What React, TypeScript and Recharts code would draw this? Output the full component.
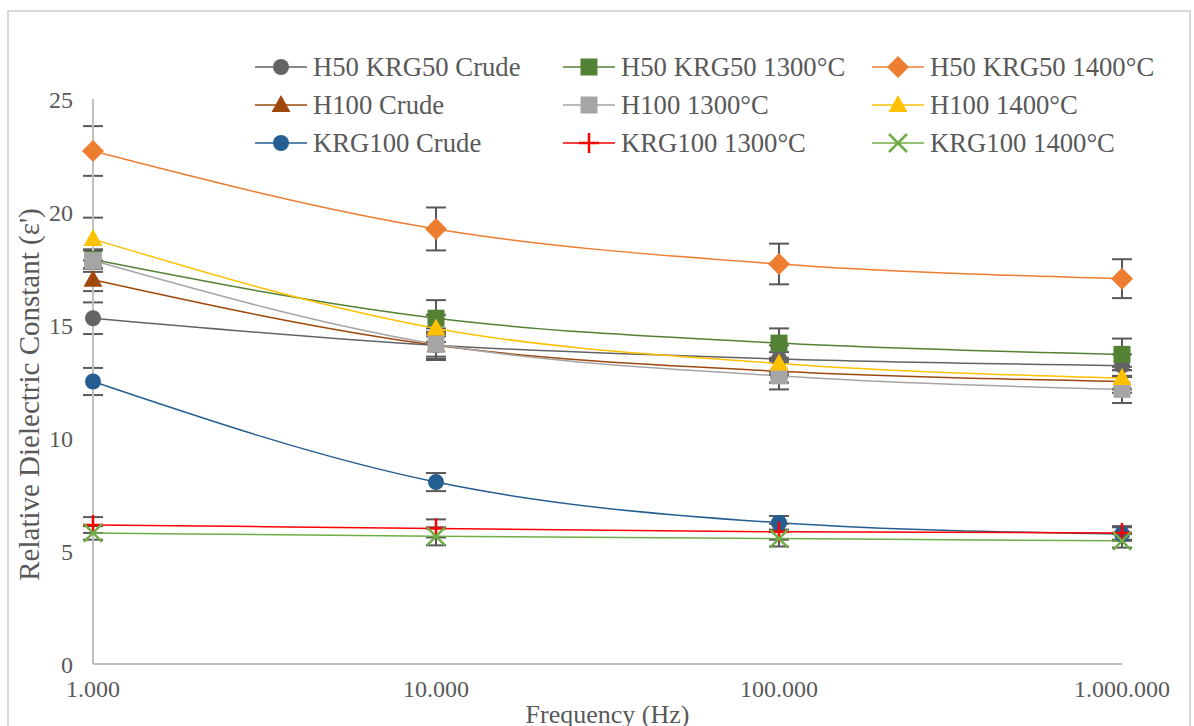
import { type FC } from 'react';
import { LineChart, Line, XAxis, YAxis, ErrorBar } from 'recharts';

// Frequency (Hz) on a log axis
const frequencies = [1000, 10000, 100000, 1000000];
const xTicks = [1000, 10000, 100000, 1000000];
const yTicks = [0, 5, 10, 15, 20, 25];

const seriesNames = [
  'H50 KRG50 Crude',
  'H50 KRG50 1300°C',
  'H50 KRG50 1400°C',
  'H100 Crude',
  'H100 1300°C',
  'H100 1400°C',
  'KRG100 Crude',
  'KRG100 1300°C',
  'KRG100 1400°C',
];

const h50Crude = [15.3, 14.1, 13.5, 13.2];
const h50_1300 = [17.9, 15.3, 14.2, 13.7];
const h50_1400 = [22.7, 19.25, 17.7, 17.05];
const h100Crude = [17.0, 14.1, 12.95, 12.5];
const h100_1300 = [17.85, 14.15, 12.75, 12.15];
const h100_1400 = [18.8, 14.85, 13.3, 12.65];
const krgCrude = [12.5, 8.05, 6.25, 5.75];
const krg_1300 = [6.15, 6.0, 5.85, 5.8];
const krg_1400 = [5.8, 5.65, 5.55, 5.45];

const h50CrudeErr = [0.7, 0.6, 0.6, 0.5];
const h50_1300Err = [0.4, 0.8, 0.65, 0.7];
const h50_1400Err = [1.1, 0.95, 0.9, 0.86];
const h100CrudeErr = [0.5, 0.5, 0.5, 0.5];
const h100_1300Err = [0.5, 0.7, 0.6, 0.6];
const h100_1400Err = [0.95, 0.6, 0.5, 0.5];
const krgCrudeErr = [0.6, 0.4, 0.3, 0.3];
const krg_1300Err = [0.35, 0.4, 0.35, 0.3];
const krg_1400Err = [0.3, 0.4, 0.35, 0.3];

const allValues = [h50Crude, h50_1300, h50_1400, h100Crude, h100_1300, h100_1400, krgCrude, krg_1300, krg_1400];
const allErrors = [
  h50CrudeErr, h50_1300Err, h50_1400Err,
  h100CrudeErr, h100_1300Err, h100_1400Err,
  krgCrudeErr, krg_1300Err, krg_1400Err,
];

type Shape = 'circle' | 'square' | 'diamond' | 'triangle' | 'plus' | 'cross';

const styles: { color: string; shape: Shape }[] = [
  { color: '#636363', shape: 'circle' },
  { color: '#548235', shape: 'square' },
  { color: '#ED7D31', shape: 'diamond' },
  { color: '#9E480E', shape: 'triangle' },
  { color: '#A5A5A5', shape: 'square' },
  { color: '#FFC000', shape: 'triangle' },
  { color: '#255E91', shape: 'circle' },
  { color: '#FF0000', shape: 'plus' },
  { color: '#70AD47', shape: 'cross' },
];

const data = frequencies.map((f, i) => {
  const row: Record<string, number> = { freq: f };
  allValues.forEach((vals, s) => {
    row[`s${s}`] = vals[i];
    row[`e${s}`] = allErrors[s][i];
  });
  return row;
});

const FONT = '"Liberation Serif", "Times New Roman", serif';
const TEXT = '#595959';

function fmtFreq(v: number): string {
  return String(Math.round(v)).replace(/\B(?=(\d{3})+(?!\d))/g, '.');
}

function marker(shape: Shape, color: string, cx: number, cy: number) {
  switch (shape) {
    case 'circle':
      return <circle cx={cx} cy={cy} r={8} fill={color} />;
    case 'square':
      return <rect x={cx - 8.5} y={cy - 8.5} width={17} height={17} fill={color} />;
    case 'diamond':
      return <polygon points={`${cx},${cy - 11} ${cx + 11},${cy} ${cx},${cy + 11} ${cx - 11},${cy}`} fill={color} />;
    case 'triangle':
      return <polygon points={`${cx},${cy - 10} ${cx + 9.5},${cy + 7} ${cx - 9.5},${cy + 7}`} fill={color} />;
    case 'plus':
      return (
        <g stroke={color} strokeWidth={2.5}>
          <line x1={cx - 10} y1={cy} x2={cx + 10} y2={cy} />
          <line x1={cx} y1={cy - 10} x2={cx} y2={cy + 10} />
        </g>
      );
    case 'cross':
      return (
        <g stroke={color} strokeWidth={2.5}>
          <line x1={cx - 9} y1={cy - 9} x2={cx + 9} y2={cy + 9} />
          <line x1={cx - 9} y1={cy + 9} x2={cx + 9} y2={cy - 9} />
        </g>
      );
  }
}

const LegendBox: FC = () => (
  <div
    style={{
      position: 'absolute',
      left: 255,
      top: 48,
      display: 'grid',
      gridTemplateColumns: '308px 309px 300px',
      fontFamily: FONT,
      fontSize: 26.7,
      color: TEXT,
    }}
  >
    {seriesNames.map((name, i) => (
      <div key={name} style={{ display: 'flex', alignItems: 'center', height: 38, whiteSpace: 'nowrap' }}>
        <svg width={52} height={24} style={{ marginRight: 6, flex: 'none' }}>
          <line x1={0} y1={12} x2={52} y2={12} stroke={styles[i].color} strokeWidth={1.5} />
          {marker(styles[i].shape, styles[i].color, 26, 12)}
        </svg>
        <span>{name}</span>
      </div>
    ))}
  </div>
);

const App: FC = () => {
  return (
    <div
      style={{
        position: 'absolute',
        left: 0,
        top: 0,
        width: 1194,
        height: 726,
        background: '#fff',
        overflow: 'hidden',
        fontFamily: FONT,
      }}
    >
      <div
        style={{
          position: 'absolute',
          left: 7,
          top: 10,
          width: 1184,
          height: 740,
          border: '2px solid #D9D9D9',
          boxSizing: 'border-box',
        }}
      />
      <div style={{ position: 'absolute', left: 0, top: 0 }}>
        <LineChart
          width={1194}
          height={726}
          data={data}
          margin={{ top: 99, right: 72, bottom: 0, left: 0 }}
          style={{ fontFamily: FONT }}
        >
          <XAxis
            dataKey="freq"
            type="number"
            scale="log"
            domain={[1000, 1000000]}
            ticks={xTicks}
            tickFormatter={fmtFreq}
            axisLine={{ stroke: '#BFBFBF', strokeWidth: 2 }}
            tickLine={false}
            tickSize={0}
            tickMargin={16}
            height={62}
            tick={{ fill: TEXT, fontFamily: FONT, fontSize: 24 }}
            label={{ value: 'Frequency (Hz)', position: 'insideBottom', offset: 3, fill: TEXT, fontFamily: FONT, fontSize: 26 }}
          />
          <YAxis
            type="number"
            domain={[0, 25]}
            ticks={yTicks}
            width={93}
            axisLine={{ stroke: '#BFBFBF', strokeWidth: 2 }}
            tickLine={false}
            tickSize={0}
            tickMargin={20}
            tick={{ fill: TEXT, fontFamily: FONT, fontSize: 24 }}
            label={{
              value: "Relative Dielectric Constant (ε')",
              angle: -90,
              position: 'center',
              dx: -18,
              dy: 13,
              fill: TEXT,
              fontFamily: FONT,
              fontSize: 29,
            }}
          />
          {seriesNames.map((name, i) => (
            <Line
              key={name}
              name={name}
              dataKey={`s${i}`}
              type="monotone"
              stroke={styles[i].color}
              strokeWidth={1.5}
              isAnimationActive={false}
              dot={(p: any) => (
                <g key={`${name}-${p.index}`}>{marker(styles[i].shape, styles[i].color, p.cx, p.cy)}</g>
              )}
              activeDot={false}
            >
              <ErrorBar dataKey={`e${i}`} direction="y" width={10} stroke="#595959" strokeWidth={2} />
            </Line>
          ))}
        </LineChart>
      </div>
      <LegendBox />
    </div>
  );
};

export default App;
